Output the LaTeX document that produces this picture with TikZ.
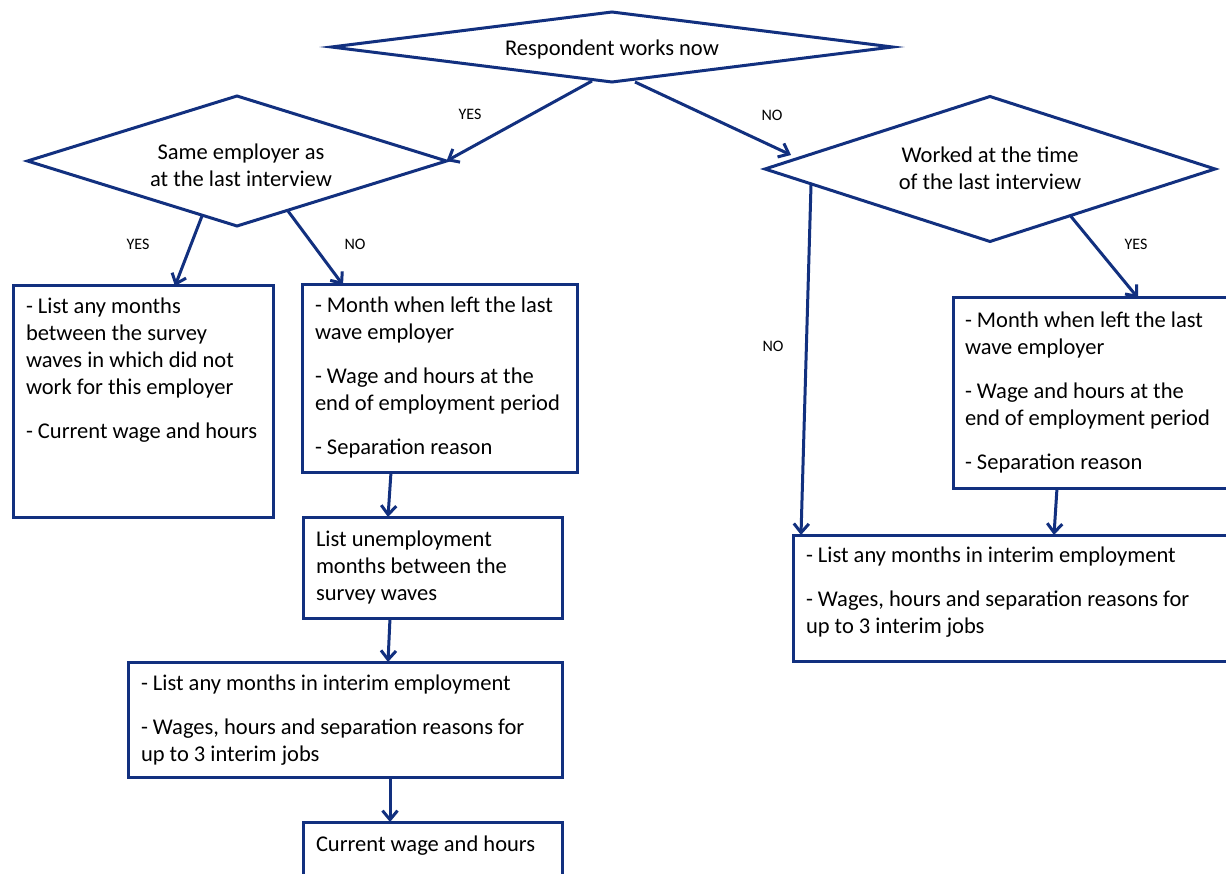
\documentclass[tikz,border=0pt]{standalone}
\usepackage{fontspec}
\setmainfont{Carlito}
\usetikzlibrary{arrows.meta,shapes.geometric,calc}
\definecolor{navy}{HTML}{12307F}
\newcommand\flowtext[2]{\parbox[t]{#1}{\raggedright\fontsize{22.5}{27}\selectfont #2}}
\begin{document}
\begin{tikzpicture}[x=1pt,y=-1pt,
  every node/.style={inner sep=0pt, outer sep=0pt},
  box/.style={draw=navy, line width=3pt, anchor=north west, fill=white},
  dia/.style={diamond, draw=navy, line width=3pt, fill=white},
  dtext/.style={align=center, font=\fontsize{22.5}{27}\selectfont},
  txt/.style={anchor=base west},
  lab/.style={font=\fontsize{16}{18}\selectfont},
  arr/.style={draw=navy, line width=3pt, -{Straight Barb[length=9pt,width=15pt,line width=3pt]}}]
\useasboundingbox[fill=white] (0,0) rectangle (1226,874);

% diamonds
\node[dia, minimum width=561, minimum height=70] (d0) at (612,47) {};
\node[dtext] (t0) at (612,50) {Respondent works now};
\node[dia, minimum width=419, minimum height=130] (d1) at (237,161) {};
\node[dtext] (t1) at (241,165) {Same employer as\\at the last interview};
\node[dia, minimum width=450, minimum height=145] (d2) at (990,169) {};
\node[dtext] (t2) at (990,168) {Worked at the time\\of the last interview};

% boxes
\node[box, minimum width=260, minimum height=231] (a) at (13,286) {};
\node[txt] (ta) at (26,314) {\flowtext{245pt}{- List any months\\between the survey\\waves in which did not\\work for this employer\\[17pt]- Current wage and hours}};
\node[box, minimum width=275, minimum height=187] (b) at (302,285) {};
\node[txt] (tb) at (315,313) {\flowtext{262pt}{- Month when left the last\\wave employer\\[17pt]- Wage and hours at the\\end of employment period\\[17pt]- Separation reason}};
\node[box, minimum width=259, minimum height=101] (c) at (303,517) {};
\node[txt] (tc) at (316,546) {\flowtext{240pt}{List unemployment\\months between the\\survey waves}};
\node[box, minimum width=434, minimum height=115] (d) at (128,662) {};
\node[txt] (td) at (141,690) {\flowtext{420pt}{- List any months in interim employment\\[17pt]- Wages, hours and separation reasons for\\up to 3 interim jobs}};
\node[box, minimum width=259, minimum height=80] (e) at (303,822) {};
\node[txt] (te) at (316,851) {\flowtext{240pt}{Current wage and hours}};
\node[box, minimum width=290, minimum height=190] (f) at (953,298) {};
\node[txt] (tf) at (965,328) {\flowtext{270pt}{- Month when left the last\\wave employer\\[17pt]- Wage and hours at the\\end of employment period\\[17pt]- Separation reason}};
\node[box, minimum width=450, minimum height=126] (g) at (793,535) {};
\node[txt] (tg) at (806,562) {\flowtext{430pt}{- List any months in interim employment\\[17pt]- Wages, hours and separation reasons for\\up to 3 interim jobs}};

% labels
\node[lab] (l1) at (470,114) {YES};
\node[lab] (l2) at (772,115) {NO};
\node[lab] (l3) at (138,244) {YES};
\node[lab] (l4) at (355,244) {NO};
\node[lab] (l5) at (773,346) {NO};
\node[lab] (l6) at (1136,244) {YES};

% connectors
\draw[arr] ($(d0.south)+(-20,-1)$) -- (d1.east);
\draw[arr] ($(d0.south)+(23,0)$) -- ($(d2.west)+(26,-14)$);
\draw[arr] ($(d1.south)+(-35,-10)$) -- ($(a.north west)+(162,0)$);
\draw[arr] ($(d1.south)+(51,-15)$) -- ($(b.north west)+(41,0)$);
\draw[arr] ($(b.south west)+(89,0)$) -- ($(c.north west)+(85,0)$);
\draw[arr] ($(c.south west)+(87,0)$) -- ($(d.north west)+(260,0)$);
\draw[arr] ($(d.south west)+(262,0)$) -- ($(e.north west)+(87,0)$);
\draw[arr] ($(d2.west)+(46,16)$) -- ($(g.north west)+(8,0)$);
\draw[arr] ($(d2.south)+(81,-25)$) -- ($(f.north west)+(185,0)$);
\draw[arr] ($(f.south west)+(104,0)$) -- ($(g.north west)+(261,0)$);
\end{tikzpicture}
\end{document}
